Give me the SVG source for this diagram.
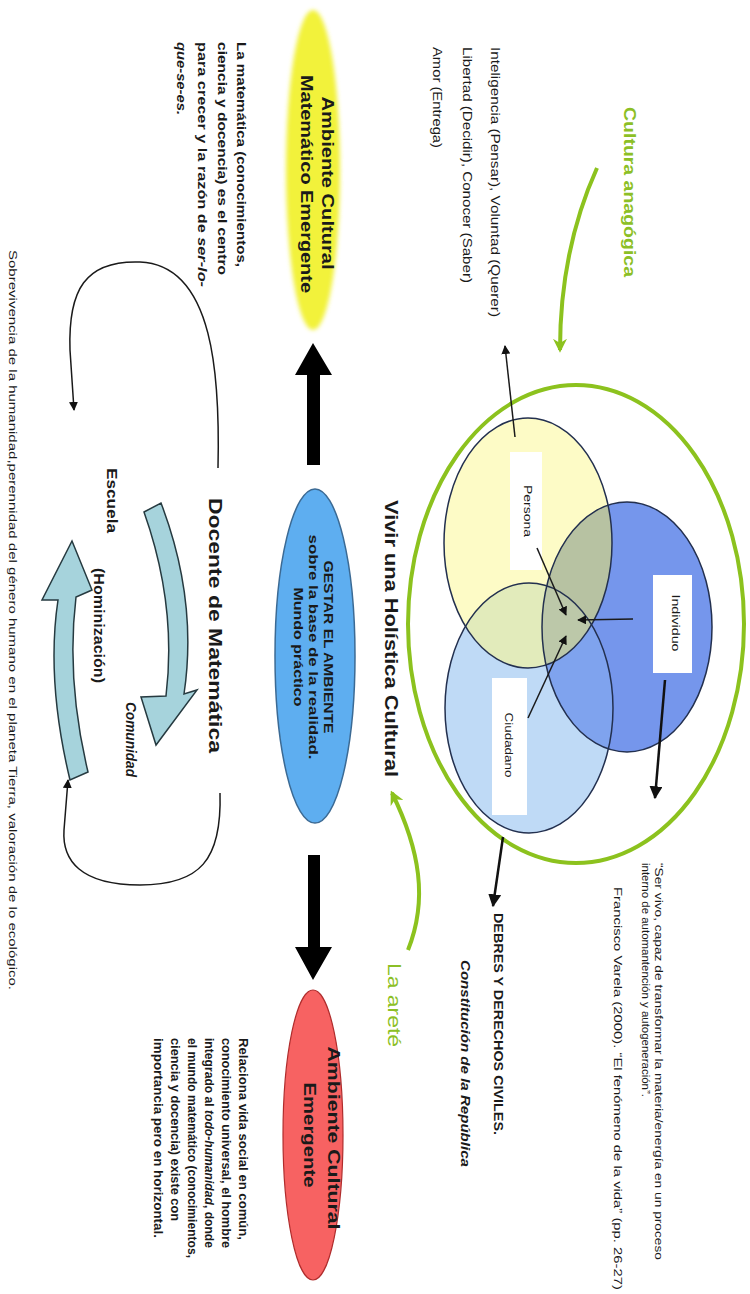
<svg xmlns="http://www.w3.org/2000/svg" width="750" height="1294" viewBox="0 0 750 1294">
<style>
.t{font-family:"Liberation Sans",Arial,sans-serif;fill:#1a1a1a}
.b{font-weight:bold}
.i{font-style:italic}
.g{fill:#8cbf26;font-weight:bold}
.gn{fill:#8cbf26;font-weight:normal}
.vl{fill:none;stroke:#23304f;stroke-width:1.5}
.thin{fill:none;stroke:#1a1a1a;stroke-width:1.5}
.thick{fill:none;stroke:#111;stroke-width:2.5}
.gr{fill:none;stroke:#8cc21e;stroke-width:4}
.teal{fill:#a6d3dc;stroke:#263a40;stroke-width:1.5}
</style>
<defs>
<marker id="ah" viewBox="0 0 10 10" refX="9" refY="5" markerWidth="9" markerHeight="9" markerUnits="userSpaceOnUse" orient="auto"><path d="M0,0 L10,5 L0,10 z" fill="#111"/></marker>
<marker id="ahb" viewBox="0 0 10 10" refX="9" refY="5" markerWidth="13" markerHeight="13" markerUnits="userSpaceOnUse" orient="auto"><path d="M0,0 L10,5 L0,10 z" fill="#111"/></marker>
<marker id="ahg" viewBox="0 0 10 10" refX="8" refY="5" markerWidth="14" markerHeight="14" markerUnits="userSpaceOnUse" orient="auto"><path d="M0,0 L10,5 L0,10 L3,5 z" fill="#8cc21e"/></marker>
<clipPath id="cP"><ellipse cx="528" cy="543" rx="84" ry="125"/></clipPath>
<clipPath id="cI"><ellipse cx="627" cy="627" rx="85" ry="125"/></clipPath>
<clipPath id="cC"><ellipse cx="529" cy="708" rx="84" ry="125"/></clipPath>
<filter id="soft" x="-20%" y="-10%" width="140%" height="120%"><feGaussianBlur stdDeviation="2"/></filter>
</defs>
<rect width="750" height="1294" fill="#ffffff"/>

<g id="venn">
<ellipse id="outer" cx="576" cy="624" rx="168" ry="239" class="gr"/>
<ellipse cx="627" cy="627" rx="85" ry="125" fill="#7596ec"/>
<ellipse cx="529" cy="708" rx="84" ry="125" fill="#bfdaf6"/>
<ellipse cx="528" cy="543" rx="84" ry="125" fill="#fdfbc6"/>
<g clip-path="url(#cI)"><ellipse cx="529" cy="708" rx="84" ry="125" fill="#7fa3ee"/></g>
<g clip-path="url(#cI)"><ellipse cx="528" cy="543" rx="84" ry="125" fill="#b7c2a2"/></g>
<g clip-path="url(#cC)"><ellipse cx="528" cy="543" rx="84" ry="125" fill="#e2ebbb"/></g>
<g clip-path="url(#cC)"><g clip-path="url(#cI)"><ellipse cx="528" cy="543" rx="84" ry="125" fill="#bcc8a9"/></g></g>
<ellipse cx="627" cy="627" rx="85" ry="125" class="vl"/>
<ellipse cx="529" cy="708" rx="84" ry="125" class="vl"/>
<ellipse cx="528" cy="543" rx="84" ry="125" class="vl"/>
</g>

<g id="persona"><rect x="510" y="452" width="32" height="118" fill="#fff"/>
<text class="t" font-size="11" text-anchor="middle" transform="translate(524,511) rotate(90)" textLength="52" lengthAdjust="spacingAndGlyphs">Persona</text></g>
<g id="individuo"><rect x="653" y="575" width="39" height="98" fill="#fff"/>
<text class="t" font-size="11" text-anchor="middle" transform="translate(672,623) rotate(90)" textLength="57" lengthAdjust="spacingAndGlyphs">Individuo</text></g>
<g id="ciudadano"><rect x="492" y="678" width="35" height="137" fill="#fff"/>
<text class="t" font-size="11" text-anchor="middle" transform="translate(505,745) rotate(90)" textLength="65" lengthAdjust="spacingAndGlyphs">Ciudadano</text></g>

<g id="connectors">
<path d="M597,168 Q560,250 560,350" class="gr" marker-end="url(#ahg)"/>
<path d="M408,950 C428,900 420,850 392,793" class="gr" marker-end="url(#ahg)"/>
<path d="M537,548 L566,615" class="thin" marker-end="url(#ah)"/>
<path d="M633,619 L578,620" class="thin" marker-end="url(#ah)"/>
<path d="M528,718 L566,636" class="thin" marker-end="url(#ah)"/>
<path d="M515,437 L505,346" class="thin" marker-end="url(#ah)"/>
<path d="M665,680 L655,798" class="thick" marker-end="url(#ahb)"/>
<path d="M503,837 L493,906" class="thick" marker-end="url(#ahb)"/>
<path d="M307,465 L307,375 L295,375 L313,343 L332,375 L320,375 L320,465 Z" fill="#000"/>
<path d="M308,855 L320,855 L320,947 L332,947 L313,980 L295,947 L308,947 Z" fill="#000"/>
<path d="M218,468 C220,380 215,265 140,262 C85,260 68,290 70,350 L74,410" class="thin" marker-end="url(#ah)"/>
<path d="M220,793 C222,860 200,885 140,885 C80,885 62,860 64,830 L68,780" class="thin" marker-end="url(#ah)"/>
<path d="M144,512 L161,503 Q198,600 184,694 L197,690 L156,745 L141,697 L166,696 Q177,605 144,512 Z" class="teal"/>
<path d="M88,772 L70,780 Q46,680 58,600 L42,600 L72,541 L92,590 L76,597 Q66,680 88,772 Z" class="teal"/>
</g>

<g id="cultura"><text class="t g" font-size="17" transform="translate(624,107) rotate(90)" textLength="170" lengthAdjust="spacingAndGlyphs">Cultura anagógica</text></g>

<g id="facultades">
<text class="t" font-size="13" transform="translate(491,47) rotate(90)" textLength="270" lengthAdjust="spacingAndGlyphs">Inteligencia (Pensar),  Voluntad (Querer)</text>
<text class="t" font-size="13" transform="translate(463,47) rotate(90)" textLength="236" lengthAdjust="spacingAndGlyphs">Libertad (Decidir), Conocer (Saber)</text>
<text class="t" font-size="13" transform="translate(433,47) rotate(90)" textLength="101" lengthAdjust="spacingAndGlyphs">Amor (Entrega)</text>
</g>

<g id="quote">
<text class="t" font-size="11.5" transform="translate(655,863) rotate(90)" textLength="397" lengthAdjust="spacingAndGlyphs">“Ser vivo, capaz de transformar la materia/energía en un proceso</text>
<text class="t" font-size="11.5" transform="translate(642,863) rotate(90)" textLength="234" lengthAdjust="spacingAndGlyphs">interno de automantención y autogeneración”.</text>
<text class="t" font-size="11.5" transform="translate(614,887) rotate(90)" textLength="403" lengthAdjust="spacingAndGlyphs">Francisco Varela (2000). “El fenómeno de la vida” (pp. 26-27)</text>
</g>

<g id="deberes">
<text class="t b" font-size="13" transform="translate(494,913) rotate(90)" textLength="222" lengthAdjust="spacingAndGlyphs">DEBRES Y DERECHOS CIVILES.</text>
<text class="t b i" font-size="13" transform="translate(461,960) rotate(90)" textLength="207" lengthAdjust="spacingAndGlyphs">Constitución de la República</text>
</g>

<g id="arete"><text class="t gn" font-size="19" transform="translate(388,963) rotate(90)" textLength="84" lengthAdjust="spacingAndGlyphs">La areté</text></g>

<g id="vivir"><text class="t b" font-size="19" transform="translate(385,500) rotate(90)" textLength="277" lengthAdjust="spacingAndGlyphs">Vivir una Holística Cultural</text></g>

<g id="amb-matematico">
<ellipse cx="313" cy="170" rx="27" ry="160" fill="#f2f23a" filter="url(#soft)"/>
<text class="t b" font-size="16" text-anchor="middle" transform="translate(322,183) rotate(90)" textLength="173" lengthAdjust="spacingAndGlyphs">Ambiente Cultural</text>
<text class="t b" font-size="16" text-anchor="middle" transform="translate(301,184) rotate(90)" textLength="218" lengthAdjust="spacingAndGlyphs">Matemático Emergente</text>
</g>

<g id="matematica-desc">
<text class="t b" font-size="13" transform="translate(237,42) rotate(90)" textLength="225" lengthAdjust="spacingAndGlyphs">La matemática (conocimientos,</text>
<text class="t b" font-size="13" transform="translate(218,42) rotate(90)" textLength="233" lengthAdjust="spacingAndGlyphs">ciencia y docencia) es el centro</text>
<text class="t b" font-size="13" transform="translate(198,42) rotate(90)" textLength="245" lengthAdjust="spacingAndGlyphs">para crecer y la razón de <tspan class="i">ser-lo-</tspan></text>
<text class="t b i" font-size="13" transform="translate(177,42) rotate(90)" textLength="73" lengthAdjust="spacingAndGlyphs">que-se-es.</text>
</g>

<g id="gestar">
<ellipse cx="315" cy="656" rx="40" ry="167" fill="#5eaef0" stroke="#3b6a94" stroke-width="1.5"/>
<text class="t b" font-size="12" text-anchor="middle" transform="translate(324,647) rotate(90)" textLength="173" lengthAdjust="spacingAndGlyphs">GESTAR EL AMBIENTE</text>
<text class="t b" font-size="12" text-anchor="middle" transform="translate(309,647) rotate(90)" textLength="225" lengthAdjust="spacingAndGlyphs">sobre la base de la realidad.</text>
<text class="t b" font-size="12" text-anchor="middle" transform="translate(294,647) rotate(90)" textLength="119" lengthAdjust="spacingAndGlyphs">Mundo práctico</text>
</g>

<g id="docente"><text class="t b" font-size="19" transform="translate(209,498) rotate(90)" textLength="255" lengthAdjust="spacingAndGlyphs">Docente de Matemática</text></g>

<g id="escuela"><text class="t b" font-size="14" transform="translate(107,468) rotate(90)" textLength="65" lengthAdjust="spacingAndGlyphs">Escuela</text></g>
<g id="hominizacion"><text class="t b" font-size="14" transform="translate(94,568) rotate(90)" textLength="115" lengthAdjust="spacingAndGlyphs">(Hominización)</text></g>
<g id="comunidad"><text class="t b i" font-size="14" transform="translate(126,702) rotate(90)" textLength="75" lengthAdjust="spacingAndGlyphs">Comunidad</text></g>

<g id="sobrevivencia"><text class="t" font-size="11.5" transform="translate(9,250) rotate(90)" textLength="740" lengthAdjust="spacingAndGlyphs">Sobrevivencia de la humanidad,perennidad del género humano en el planeta Tierra, valoración de lo ecológico.</text></g>

<g id="amb-emergente">
<ellipse cx="313" cy="1135" rx="30" ry="145" fill="#f76262" stroke="#b02c2c" stroke-width="1.2"/>
<text class="t b" font-size="16" text-anchor="middle" transform="translate(328,1138) rotate(90)" textLength="183" lengthAdjust="spacingAndGlyphs">Ambiente Cultural</text>
<text class="t b" font-size="16" text-anchor="middle" transform="translate(304,1135) rotate(90)" textLength="105" lengthAdjust="spacingAndGlyphs">Emergente</text>
</g>

<g id="emergente-desc">
<text class="t b" font-size="12.5" transform="translate(239,1038) rotate(90)" textLength="202" lengthAdjust="spacingAndGlyphs">Relaciona vida social en común,</text>
<text class="t b" font-size="12.5" transform="translate(222,1038) rotate(90)" textLength="210" lengthAdjust="spacingAndGlyphs">conocimiento universal, el hombre</text>
<text class="t b" font-size="12.5" transform="translate(205,1038) rotate(90)" textLength="210" lengthAdjust="spacingAndGlyphs">integrado al <tspan class="i">todo-humanidad</tspan>, donde</text>
<text class="t b" font-size="12.5" transform="translate(188,1038) rotate(90)" textLength="220" lengthAdjust="spacingAndGlyphs">el mundo matemático (conocimientos,</text>
<text class="t b" font-size="12.5" transform="translate(171,1038) rotate(90)" textLength="183" lengthAdjust="spacingAndGlyphs">ciencia y docencia) existe con</text>
<text class="t b" font-size="12.5" transform="translate(154,1038) rotate(90)" textLength="200" lengthAdjust="spacingAndGlyphs">importancia pero en horizontal.</text>
</g>
</svg>
